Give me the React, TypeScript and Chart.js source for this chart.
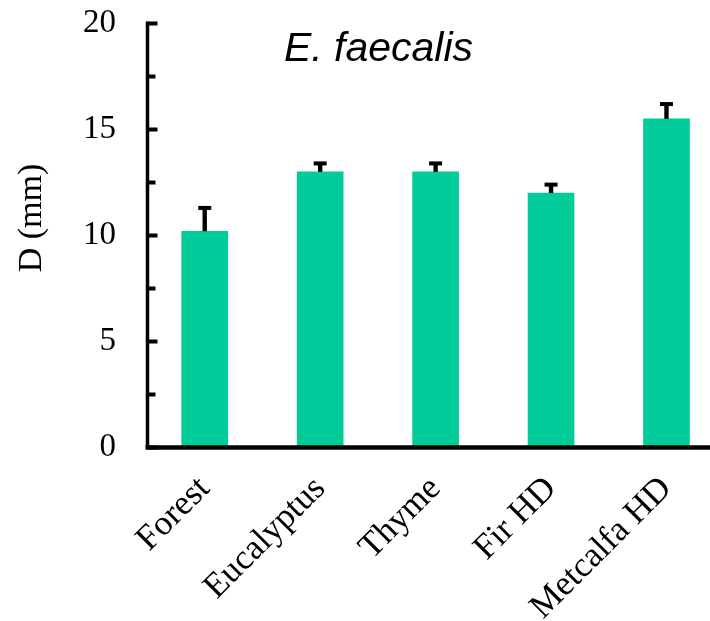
import { useEffect, useRef } from "react";
import { Chart, registerables } from "chart.js";

Chart.register(...registerables);

// Inhibition zone diameters per extract
const categories = ["Forest", "Eucalyptus", "Thyme", "Fir HD", "Metcalfa HD"];
const diameters = [10.2, 13.0, 13.0, 12.0, 15.5];
const errors = [1.1, 0.4, 0.4, 0.4, 0.7];
const majorTicks = [0, 5, 10, 15, 20];
const minorTicks = [2.5, 7.5, 12.5, 17.5];
const chartTitle = "E. faecalis";
const yAxisTitle = "D (mm)";

const SERIF = '"Liberation Serif", "Times New Roman", serif';
const SANS = '"Liberation Sans", Arial, sans-serif';
const GREEN = "#00CC99";

// Scales keep no inner padding so the plot spans the full area given to it.
const noPadding = (s: any) => {
  s.paddingLeft = 0;
  s.paddingRight = 0;
  s.paddingTop = 0;
  s.paddingBottom = 0;
};

// Draws the error bars, the heavy axis lines with inward ticks and the titles.
const decorations = {
  id: "decorations",
  afterDatasetsDraw(chart: any) {
    const { ctx, chartArea, scales } = chart;
    const x = scales.x;
    const y = scales.y;
    ctx.save();
    ctx.fillStyle = "#000";
    ctx.strokeStyle = "#000";

    diameters.forEach((v, i) => {
      const cx = x.getPixelForValue(i);
      const top = y.getPixelForValue(v + errors[i]);
      const base = y.getPixelForValue(v);
      ctx.fillRect(cx - 2.2, top, 4.4, base - top);
      ctx.fillRect(cx - 6.5, top - 2, 13, 4);
    });

    const axisX = chartArea.left + 0.5;
    const y0 = y.getPixelForValue(0);
    const yTop = y.getPixelForValue(20);

    ctx.lineCap = "butt";
    ctx.lineWidth = 3.5;
    ctx.beginPath();
    ctx.moveTo(axisX, yTop - 2);
    ctx.lineTo(axisX, y0);
    ctx.stroke();

    ctx.lineWidth = 4.5;
    ctx.beginPath();
    ctx.moveTo(axisX - 2, y0);
    ctx.lineTo(chartArea.right, y0);
    ctx.stroke();

    ctx.lineWidth = 4;
    majorTicks.forEach((t) => {
      const py = y.getPixelForValue(t);
      ctx.beginPath();
      ctx.moveTo(axisX, py);
      ctx.lineTo(axisX + 10, py);
      ctx.stroke();
    });
    minorTicks.forEach((t) => {
      const py = y.getPixelForValue(t);
      ctx.beginPath();
      ctx.moveTo(axisX, py);
      ctx.lineTo(axisX + 8, py);
      ctx.stroke();
    });

    ctx.font = `italic 41px ${SANS}`;
    ctx.textAlign = "center";
    ctx.textBaseline = "alphabetic";
    ctx.fillText(chartTitle, 378.5, 61);

    ctx.translate(32, 218);
    ctx.rotate(-Math.PI / 2);
    ctx.font = `34px ${SERIF}`;
    ctx.textBaseline = "middle";
    ctx.fillText(yAxisTitle, 0, 0);
    ctx.restore();
  },
};

export default function App() {
  const canvasRef = useRef<HTMLCanvasElement | null>(null);

  useEffect(() => {
    document.body.style.margin = "0";
    const canvas = canvasRef.current;
    if (!canvas) return;
    const chart = new Chart(canvas, {
      type: "bar",
      data: {
        datasets: [
          {
            data: diameters.map((v, i) => ({ x: i, y: v })),
            backgroundColor: GREEN,
            borderWidth: 0,
            barThickness: 46,
          },
        ],
      },
      options: {
        animation: false,
        responsive: false,
        devicePixelRatio: 1,
        layout: { padding: { top: 23.5, right: 0, left: 0, bottom: 0 } },
        plugins: {
          legend: { display: false },
          tooltip: { enabled: false },
          title: { display: false },
        },
        scales: {
          x: {
            type: "linear",
            offset: false,
            min: -0.5,
            max: 4.377,
            grid: { display: false, drawTicks: false, offset: false },
            border: { display: false },
            afterBuildTicks: (s: any) => {
              s.ticks = categories.map((_, i) => ({ value: i }));
            },
            afterFit: (s: any) => {
              s.height = 173.5;
              noPadding(s);
            },
            ticks: {
              autoSkip: false,
              minRotation: 45,
              maxRotation: 45,
              padding: 21,
              color: "#000",
              font: { family: SERIF, size: 35 },
              callback: (v: any) => categories[Math.round(Number(v))] ?? "",
            },
          },
          y: {
            min: 0,
            max: 20,
            grid: { display: false, drawTicks: false },
            border: { display: false },
            afterBuildTicks: (s: any) => {
              s.ticks = majorTicks.map((v) => ({ value: v }));
            },
            afterFit: (s: any) => {
              s.width = 147;
              noPadding(s);
            },
            ticks: {
              padding: 31,
              color: "#000",
              font: { family: SERIF, size: 33 },
            },
          },
        },
      },
      plugins: [decorations],
    });
    return () => chart.destroy();
  }, []);

  return (
    <div style={{ width: 710, height: 621, overflow: "hidden" }}>
      <canvas ref={canvasRef} width={710} height={621} style={{ display: "block" }} />
    </div>
  );
}
